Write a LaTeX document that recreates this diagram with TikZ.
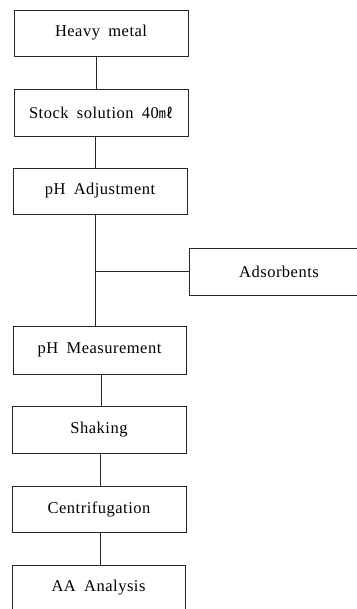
\documentclass[tikz,border=0pt]{standalone}
\usepackage{fontspec}
\setmainfont{Liberation Serif}[LetterSpace=3,WordSpace=1.8]
\newfontfamily\cjk{Noto Sans CJK SC}
\begin{document}
\begin{tikzpicture}[x=1pt,y=-1pt,
  stepbox/.style={draw=black!85,line width=0.7pt,minimum width=174pt,minimum height=46pt,inner sep=0pt,font=\fontsize{16.5}{19}\selectfont},
  link/.style={draw=black!85,line width=0.7pt}]
\useasboundingbox (0,0) rectangle (356,609);
\node[stepbox] (hm) at (101,33) {Heavy metal};
\node[stepbox,minimum height=47pt] (ss) at (101,112.5) {Stock solution 40{\cjk\fontsize{14}{16}\selectfont ㎖}};
\node[stepbox] (pa) at (100,191) {pH Adjustment};
\node[stepbox,minimum width=180pt,minimum height=47pt] (ad) at (279,271.5) {Adsorbents};
\node[stepbox,minimum width=173pt,minimum height=48pt] (pm) at (99.5,350) {pH Measurement};
\node[stepbox,minimum height=47pt] (sh) at (99,429.5) {Shaking};
\node[stepbox] (ce) at (99,509) {Centrifugation};
\node[stepbox,minimum width=173pt] (aa) at (98.5,588) {AA Analysis};
\draw[link] ([xshift=-5pt]hm.south) -- ([xshift=-5pt]hm.south |- ss.north);
\draw[link] ([xshift=-6pt]ss.south) -- ([xshift=-6pt]ss.south |- pa.north);
\draw[link] ([xshift=-5pt]pa.south) -- ([xshift=-5pt]pa.south |- pm.north);
\coordinate (jn) at ([xshift=-5pt]pa.south |- ad.west);
\draw[link] (ad.west) -- (jn);
\draw[link] ([xshift=1.5pt]pm.south) -- ([xshift=1.5pt]pm.south |- sh.north);
\draw[link] ([xshift=1pt]sh.south) -- ([xshift=1pt]sh.south |- ce.north);
\draw[link] ([xshift=1pt]ce.south) -- ([xshift=1pt]ce.south |- aa.north);
\end{tikzpicture}
\end{document}
